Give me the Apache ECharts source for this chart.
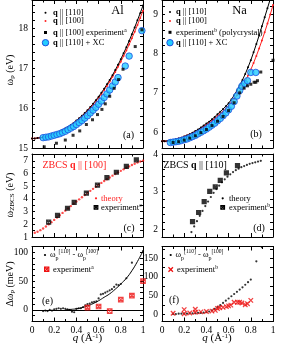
<!DOCTYPE html>
<html><head><meta charset="utf-8">
<script src="https://cdn.jsdelivr.net/npm/echarts@6/dist/echarts.min.js"></script>
<style>html,body{margin:0;padding:0;background:#fff}#c{width:293px;height:348px}</style>
</head><body><div id="c"></div>
<script>
// ---------- data ----------
const qGrid = [0,0.025,0.05,0.075,0.1,0.125,0.15,0.175,0.2,0.225,0.25,0.275,0.3,0.325,0.35,0.375,0.4,0.425,0.45,0.475,0.5,0.525,0.55,0.575,0.6,0.625,0.65,0.675,0.7,0.725,0.75,0.775,0.8,0.825,0.85,0.875,0.9,0.925,0.95,0.975,1];
// (a) Al
const alTheory110 = [15.24,15.24,15.25,15.26,15.27,15.28,15.30,15.32,15.35,15.38,15.41,15.45,15.49,15.53,15.58,15.63,15.69,15.75,15.81,15.88,15.95,16.03,16.11,16.20,16.29,16.39,16.49,16.60,16.71,16.83,16.96,17.09,17.23,17.38,17.53,17.69,17.86,18.03,18.21,18.39,18.58];
const alTheory100 = [15.24,15.24,15.25,15.26,15.27,15.28,15.30,15.32,15.35,15.38,15.41,15.45,15.49,15.53,15.58,15.63,15.68,15.74,15.80,15.87,15.94,16.01,16.09,16.17,16.26,16.36,16.46,16.56,16.67,16.79,16.91,17.04,17.17,17.31,17.45,17.60,17.76,17.92,18.09,18.27,18.45];
const alXCq = [0.1,0.125,0.15,0.175,0.2,0.225,0.25,0.275,0.3,0.325,0.35,0.375,0.4,0.425,0.45,0.475,0.5,0.525,0.55,0.575,0.6,0.625,0.65,0.675,0.7,0.725,0.75,0.775,0.84,0.875,0.99];
const alXC = [15.26,15.27,15.28,15.30,15.32,15.34,15.36,15.39,15.42,15.46,15.50,15.54,15.59,15.64,15.69,15.75,15.81,15.88,15.95,16.02,16.10,16.18,16.27,16.36,16.46,16.56,16.66,16.77,17.06,17.31,17.95];
const alExpQ = [0.11,0.22,0.30,0.37,0.43,0.49,0.545,0.59,0.63,0.66,0.70,0.74,0.78,0.82,0.93,0.99];
const alExp = [15.03,15.12,15.20,15.32,15.43,15.59,15.71,15.84,15.97,16.11,16.30,16.50,16.72,16.98,17.55,17.97];
// (b) Na
const naTheory110 = [5.77,5.77,5.78,5.79,5.80,5.82,5.84,5.86,5.89,5.92,5.95,5.99,6.03,6.07,6.12,6.17,6.22,6.27,6.33,6.39,6.46,6.52,6.59,6.66,6.74,6.83,6.94,7.06,7.19,7.33,7.48,7.65,7.83,8.03,8.24,8.46,8.69,8.92,9.15,9.38,9.61];
const naTheory100 = [5.77,5.77,5.78,5.79,5.80,5.82,5.84,5.86,5.89,5.92,5.95,5.98,6.02,6.06,6.10,6.14,6.19,6.24,6.29,6.35,6.41,6.47,6.53,6.60,6.67,6.75,6.84,6.94,7.05,7.17,7.30,7.44,7.59,7.76,7.94,8.13,8.33,8.54,8.76,8.99,9.23];
const naXCq = [0.075,0.1,0.125,0.15,0.175,0.2,0.225,0.25,0.275,0.3,0.325,0.35,0.375,0.4,0.425,0.45,0.475,0.5,0.525,0.55,0.575,0.6,0.625,0.65,0.675,0.7,0.72,0.745,0.77,0.8,0.845];
const naXC = [5.74,5.75,5.76,5.77,5.79,5.81,5.83,5.86,5.89,5.92,5.96,6.00,6.04,6.08,6.13,6.18,6.23,6.29,6.35,6.42,6.49,6.57,6.66,6.78,6.92,7.06,7.17,7.24,7.31,7.52,7.52];
const naExpQ = [0.1,0.15,0.2,0.25,0.3,0.35,0.4,0.45,0.5,0.55,0.6,0.65,0.7,0.74,0.77,0.80,0.83,0.845,0.86,0.89,1.0];
const naExp = [5.74,5.76,5.80,5.85,5.91,5.99,6.07,6.17,6.28,6.40,6.55,6.75,7.00,7.12,7.18,7.22,7.27,7.27,7.31,7.53,7.83];
// (c) ZBCS Al q||[100]
const zbcsAlQ = [0.025,0.05,0.075,0.1,0.125,0.15,0.175,0.2,0.225,0.25,0.275,0.3,0.325,0.35,0.375,0.4,0.425,0.45,0.475,0.5,0.525,0.55,0.575,0.6,0.625,0.65,0.675,0.7,0.725,0.75,0.775,0.8,0.825,0.85,0.875,0.9,0.925,0.95,0.975,1];
const zbcsAlTheory = [1.33,1.42,1.54,1.67,1.83,2.00,2.17,2.35,2.53,2.72,2.90,3.08,3.26,3.44,3.62,3.80,3.97,4.14,4.31,4.48,4.64,4.80,4.96,5.12,5.27,5.42,5.56,5.70,5.84,5.97,6.10,6.22,6.34,6.46,6.57,6.68,6.78,6.88,6.96,7.03];
const zbcsAlExpQ = [0.15,0.23,0.32,0.38,0.49,0.59,0.675,0.76,0.85,0.94];
const zbcsAlExp = [2.18,2.71,3.27,3.73,4.46,5.10,5.68,6.11,6.57,7.08];
// (d) ZBCS Na q||[110]
const zbcsNaQ = [0.24,0.265,0.29,0.315,0.34,0.365,0.39,0.415,0.44,0.465,0.49,0.515,0.54,0.565,0.59,0.615,0.64,0.665,0.69,0.715,0.74,0.765,0.79,0.815,0.84,0.865,0.89];
const zbcsNaTheory = [1.78,1.93,2.08,2.22,2.36,2.49,2.62,2.74,2.86,2.97,3.07,3.16,3.25,3.33,3.40,3.46,3.52,3.57,3.61,3.65,3.68,3.71,3.74,3.76,3.78,3.80,3.82];
const zbcsNaExpQ = [0.275,0.33,0.38,0.43,0.48,0.525,0.58,0.68];
const zbcsNaExp = [2.21,2.45,2.74,3.01,3.13,3.30,3.50,3.69];
// (e) anisotropy Al (meV)
const dAlQ = [0.1,0.12,0.14,0.16,0.18,0.2,0.22,0.24,0.26,0.28,0.3,0.32,0.34,0.36,0.38,0.4,0.42,0.44,0.46,0.48,0.5,0.52,0.54,0.56,0.58,0.6,0.62,0.64,0.66,0.68,0.7,0.72,0.74,0.76,0.78,0.8,0.85,0.9,1.0];
const dAl = [-2,-1,-2,0,-1,1,2,3,2,3,2,1,0,-3,-4,2,3,3,5,8,10,11,13,14,15,20,27,28,30,32,34,36,40,44,43,45,55,82,102];
const dAlFitQ = [0.3,0.35,0.4,0.45,0.5,0.55,0.6,0.65,0.7,0.75,0.8,0.85,0.9,0.95,1.0];
const dAlFit = [0,1,2,4,7,11,16,22,28,36,45,55,68,84,102];
const dAlExpQ = [0.5,0.6,0.7,0.8,0.9,1.0];
const dAlExp = [4,6,-2,18,25,50];
// (f) anisotropy Na (meV)
const dNaQ = [0.1,0.125,0.15,0.175,0.2,0.225,0.25,0.275,0.3,0.325,0.35,0.375,0.4,0.425,0.45,0.475,0.5,0.525,0.55,0.575,0.6,0.625,0.65,0.675,0.7,0.725,0.75,0.775,0.8,0.85,0.9];
const dNa = [0,0,1,1,1,1,2,2,2,3,3,4,5,7,10,14,19,24,30,36,42,48,54,60,66,72,79,86,93,142,180];
const dNaExpQ = [0.1,0.2,0.2,0.25,0.3,0.3,0.35,0.4,0.45,0.48,0.5,0.52,0.55,0.58,0.6,0.62,0.65,0.68,0.7,0.72,0.75,0.77,0.8];
const dNaExp = [2,12,1,3,13,5,6,7,8,10,15,17,18,20,22,24,32,32,32,30,25,28,37];

// tick values
const yA = {min:15, max:18.72, labels:[15,16,17,18], ticks:[15,15.2,15.4,15.6,15.8,16,16.2,16.4,16.6,16.8,17,17.2,17.4,17.6,17.8,18,18.2,18.4,18.6]};
const yB = {min:5.6, max:9.36, labels:[6,7,8,9], ticks:[5.6,5.8,6,6.2,6.4,6.6,6.8,7,7.2,7.4,7.6,7.8,8,8.2,8.4,8.6,8.8,9,9.2]};
const yC = {min:1, max:7.55, labels:[1,2,3,4,5,6,7], ticks:[1,1.5,2,2.5,3,3.5,4,4.5,5,5.5,6,6.5,7,7.5]};
const yD = {min:1.8, max:4.0, labels:[2,3,4], ticks:[1.8,2,2.2,2.4,2.6,2.8,3,3.2,3.4,3.6,3.8,4]};
const yE = {min:-20, max:110, labels:[0,50,100], ticks:[-10,0,10,20,30,40,50,60,70,80,90,100]};
const yF = {min:-20, max:182, labels:[0,50,100,150], ticks:[0,25,50,75,100,125,150,175]};

// ---------- chart ----------
const FONT = 'Liberation Serif';
const chart = echarts.init(document.getElementById('c'), null, {renderer:'canvas'});
const grids = [
  {left:32, top:-2, width:111, height:150},
  {left:162, top:-2, width:111, height:150},
  {left:32, top:154, width:111, height:83},
  {left:162, top:154, width:111, height:83},
  {left:32, top:246.5, width:111, height:75},
  {left:162, top:246.5, width:111, height:75}
];
const ys = [yA,yB,yC,yD,yE,yF];
const lineStyle = {color:'#000', width:1};
const xAxes = [], yAxes = [];
for (let i=0;i<6;i++){
  const showLab = i>=4;
  xAxes.push({type:'value', gridIndex:i, min:0, max:1, interval:0.2, position:'bottom',
    axisLine:{lineStyle, onZero:false}, splitLine:{show:false},
    axisTick:{inside:true, length:4, lineStyle},
    minorTick:{show:true, splitNumber:2, length:2.5, lineStyle},
    axisLabel:{show:showLab, margin:4, fontFamily:FONT, fontSize:9.5, color:'#000',
      formatter:v=>String(+v.toFixed(1))}
  });
}
for (let i=0;i<6;i++){
  xAxes.push({type:'value', gridIndex:i, min:0, max:1, interval:0.2, position:'top',
    axisLine:{lineStyle, onZero:false}, splitLine:{show:false},
    axisTick:{inside:true, length:4, lineStyle},
    minorTick:{show:true, splitNumber:2, length:2.5, lineStyle},
    axisLabel:{show:false}});
}
for (let i=0;i<6;i++){
  const y = ys[i];
  yAxes.push({type:'value', gridIndex:i, min:y.min, max:y.max, position:'left',
    axisLine:{show:true, lineStyle, onZero:false}, splitLine:{show:false},
    axisTick:{show:true, inside:true, length:3, lineStyle, customValues:y.ticks},
    axisLabel:{show:true, margin:4, fontFamily:FONT, fontSize:9.5, color:'#000', customValues:y.labels}
  });
}
for (let i=0;i<6;i++){
  const y = ys[i];
  yAxes.push({type:'value', gridIndex:i, min:y.min, max:y.max, position:'right',
    axisLine:{show:true, lineStyle, onZero:false}, splitLine:{show:false},
    axisTick:{show:true, inside:true, length:3, lineStyle, customValues:y.ticks},
    axisLabel:{show:false}});
}
const zip = (a,b)=>a.map((v,i)=>[v,b[i]]);
const exBox = 'path://M0 0H10V10H0Z M0 0L10 10 M10 0L0 10';
const exX = 'path://M0 0L10 10 M10 0L0 10';
function lineSer(i, data, color, sym){
  return {type:'line', xAxisIndex:i, yAxisIndex:i, data, showSymbol:true, symbol:'circle', symbolSize:sym,
    itemStyle:{color}, lineStyle:{color, width:1}, smooth:false, silent:true, animation:false, z:3};
}
function scat(i, data, symbol, size, itemStyle, z){
  return {type:'scatter', xAxisIndex:i, yAxisIndex:i, data, symbol, symbolSize:size, itemStyle, silent:true, animation:false, z:z||4};
}
const cyan = {color:'#22ccff', borderColor:'#1f50e0', borderWidth:1};
const series = [
  lineSer(0, zip(qGrid, alTheory100), '#ff2020', 2),
  lineSer(0, zip(qGrid, alTheory110), '#000', 2),
  scat(0, zip(alXCq, alXC), 'circle', 6.5, cyan, 4),
  scat(0, zip(alExpQ, alExp), 'rect', 3, {color:'#000'}, 5),
  lineSer(1, zip(qGrid, naTheory100), '#ff2020', 2),
  lineSer(1, zip(qGrid, naTheory110), '#000', 2),
  scat(1, zip(naXCq, naXC), 'circle', 6.5, cyan, 4),
  scat(1, zip(naExpQ, naExp), 'rect', 3, {color:'#000'}, 5),
  scat(2, zip(zbcsAlQ, zbcsAlTheory), 'circle', 2.4, {color:'#ff2020'}, 4),
  scat(2, zip(zbcsAlExpQ, zbcsAlExp), exBox, 3.8, {color:'rgba(0,0,0,0)', borderColor:'#000', borderWidth:1.4}, 5),
  scat(3, zip(zbcsNaQ, zbcsNaTheory), 'circle', 2.2, {color:'#000'}, 4),
  scat(3, zip(zbcsNaExpQ, zbcsNaExp), exBox, 3.8, {color:'rgba(0,0,0,0)', borderColor:'#000', borderWidth:1.4}, 5),
  {type:'line', xAxisIndex:4, yAxisIndex:4, data: zip(dAlFitQ, dAlFit), showSymbol:false, smooth:true, lineStyle:{color:'#000', width:1}, silent:true, animation:false,
    markLine:{silent:true, symbol:'none', label:{show:false}, lineStyle:{color:'#000', width:1, type:'solid'}, data:[{yAxis:0}], animation:false}},
  scat(4, zip(dAlQ, dAl), 'circle', 2.2, {color:'#000'}, 4),
  scat(4, zip(dAlExpQ, dAlExp), exBox, 4.5, {color:'rgba(255,255,255,0)', borderColor:'#ee1111', borderWidth:1.2}, 5),
  scat(5, zip(dNaQ, dNa), 'circle', 2.2, {color:'#000'}, 4),
  scat(5, zip(dNaExpQ, dNaExp), exX, 4.5, {color:'rgba(0,0,0,0)', borderColor:'#ee1111', borderWidth:1.3}, 5)
];

// ---------- annotations ----------
function baseStyle(text,size,fill,extra){
  return Object.assign({text, fontFamily:FONT, fontSize:size, fill, align:'left', verticalAlign:'middle', textAlign:'left', textVerticalAlign:'middle'}, extra||{});
}
const tStyle = (x,y,text,size)=>({type:'text', x, y, silent:true, style:baseStyle(text,size,'#000',{align:'center', textAlign:'center'})});
function rt(x,y,text,size,fill,opts){
  opts = opts||{};
  const rich = {
    b:{fontWeight:'bold', fontFamily:FONT, fontSize:size, fill},
    i:{fontStyle:'italic', fontFamily:FONT, fontSize:size, fill},
    sup:{fontSize:Math.max(5, size*0.65), fontFamily:FONT, fill, verticalAlign:'top', lineHeight:6},
    sub:{fontSize:Math.max(5, size*0.7), fontFamily:FONT, fill, verticalAlign:'bottom', lineHeight:12}
  };
  const st = baseStyle(text,size,fill,{rich});
  if (opts.center){ st.align='center'; st.textAlign='center'; }
  const el = {type:'text', x, y, silent:true, style:st};
  if (opts.rot) el.rotation = opts.rot;
  return el;
}
const dot = (x,y,r,fill)=>({type:'circle', shape:{cx:x, cy:y, r}, style:{fill}, silent:true});
const sq = (x,y,s,fill)=>({type:'rect', shape:{x:x-s/2, y:y-s/2, width:s, height:s}, style:{fill}, silent:true});
const boxX = (x,y,s,stroke)=>({type:'group', silent:true, children:[
  {type:'rect', shape:{x:x-s/2,y:y-s/2,width:s,height:s}, style:{fill:'none', stroke, lineWidth:1.2}},
  {type:'line', shape:{x1:x-s/2,y1:y-s/2,x2:x+s/2,y2:y+s/2}, style:{stroke, lineWidth:1.2}},
  {type:'line', shape:{x1:x+s/2,y1:y-s/2,x2:x-s/2,y2:y+s/2}, style:{stroke, lineWidth:1.2}}]});
const crossX = (x,y,s,stroke)=>({type:'group', silent:true, children:[
  {type:'line', shape:{x1:x-s/2,y1:y-s/2,x2:x+s/2,y2:y+s/2}, style:{stroke, lineWidth:1.3}},
  {type:'line', shape:{x1:x+s/2,y1:y-s/2,x2:x-s/2,y2:y+s/2}, style:{stroke, lineWidth:1.3}}]});
const cyanDot = (x,y)=>({type:'circle', shape:{cx:x, cy:y, r:3.2}, style:{fill:'#22ccff', stroke:'#1f50e0', lineWidth:1}, silent:true});

const graphic = [
  dot(45.5,12.7,1,'#000'), rt(53,12.7,'{b|q} || [110]',8.5,'#000'),
  dot(45.5,21,1,'#ff2020'), rt(53,21,'{b|q} || [100]',8.5,'#000'),
  sq(45.5,32.5,3,'#000'), rt(53,32.5,'{b|q} || [100] experiment{sup|a}',8.5,'#000'),
  cyanDot(45.5,42.7), rt(53,42.7,'{b|q} || [110] + XC',8.5,'#000'),
  tStyle(117.5,10.5,'Al',12.5),
  tStyle(128.5,135,'(a)',10),
  dot(170,12,1,'#000'), rt(176,12,'{b|q} || [110]',8.5,'#000'),
  dot(170,21,1,'#ff2020'), rt(176,21,'{b|q} || [100]',8.5,'#000'),
  sq(170,32.3,3,'#000'), rt(176,32.3,'experiment{sup|b} (polycrystal)',8.5,'#000'),
  cyanDot(170,42.7), rt(176,42.7,'{b|q} || [110] + XC',8.5,'#000'),
  tStyle(239.5,10.5,'Na',12.5),
  tStyle(256,134,'(b)',10),
  rt(42.5,165.5,'ZBCS {b|q} || [100]',10,'#ff2020'),
  dot(96,198.3,1.1,'#ff2020'), rt(101,198.3,'theory',8.5,'#ff2020'),
  boxX(96,207.3,3.6,'#000'), rt(101,207.3,'experiment{sup|c}',8.5,'#000'),
  tStyle(129,228.3,'(c)',10),
  rt(163.5,165.5,'ZBCS {b|q} || [110]',10,'#000'),
  dot(222.7,198.3,1.1,'#000'), rt(229,198.3,'theory',8.5,'#000'),
  boxX(222.7,207.3,3.6,'#000'), rt(229,207.3,'experiment{sup|b}',8.5,'#000'),
  tStyle(259,228.3,'(d)',10),
  dot(45,255,1.1,'#000'), rt(50,255,'ω{sub|p}{sup|[110]} - ω{sub|p}{sup|[100]}',8.5,'#000'),
  boxX(46.7,269.3,4.2,'#ee1111'), rt(53,269.3,'experiment{sup|a}',8.5,'#000'),
  tStyle(47.5,301.7,'(e)',10),
  dot(170.7,255,1.1,'#000'), rt(175.5,255,'ω{sub|p}{sup|[110]} - ω{sub|p}{sup|[100]}',8.5,'#000'),
  crossX(170.7,269.5,4.5,'#ee1111'), rt(177,269.5,'experiment{sup|b}',8.5,'#000'),
  tStyle(174,300,'(f)',10),
  rt(10,70,'ω{sub|p} (eV)',10,'#000',{center:true, rot:Math.PI/2}),
  rt(10,195,'ω{sub|ZBCS} (eV)',10,'#000',{center:true, rot:Math.PI/2}),
  rt(10,284,'Δω{sub|p} (meV)',10,'#000',{center:true, rot:Math.PI/2}),
  rt(87.5,338,'{i|q} (Å{sup|-1})',11,'#000',{center:true}),
  rt(217,338,'{i|q} (Å{sup|-1})',11,'#000',{center:true})
];

chart.setOption({
  animation:false,
  backgroundColor:'#fff',
  grid:grids.map(g=>Object.assign({containLabel:false}, g)),
  xAxis:xAxes, yAxis:yAxes, series, graphic
});
</script></body></html>
